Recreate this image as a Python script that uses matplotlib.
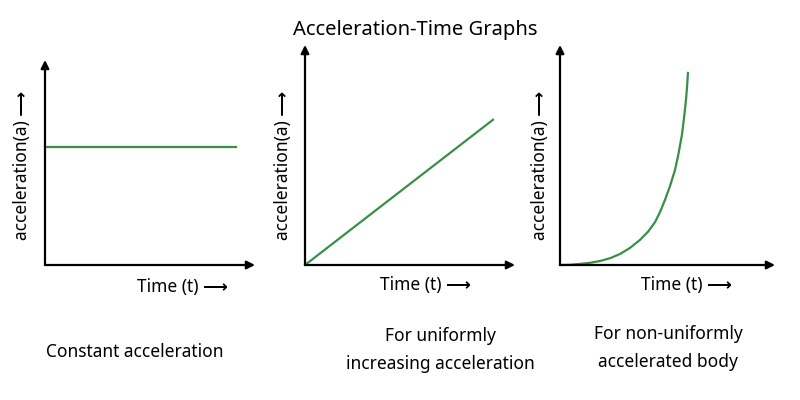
import matplotlib
matplotlib.use("Agg")
from matplotlib import pyplot as plt

plt.rcParams['font.family'] = ['Noto Sans', 'DejaVu Sans']

# panel data (arbitrary units, axes run 0..10)
const_t = [0, 9.1]
const_a = [5.76, 5.76]

lin_t = [0, 8.95]
lin_a = [0, 6.6]

curve_t = [0, 0.47, 0.93, 1.4, 1.86, 2.33, 2.79, 3.26, 3.72, 4.1, 4.42, 4.65, 4.88,
           5.12, 5.35, 5.51, 5.67, 5.77, 5.86, 5.91, 5.95]
curve_a = [0, 0.01, 0.05, 0.1, 0.18, 0.31, 0.5, 0.78, 1.14, 1.52, 1.95, 2.4, 2.95,
           3.6, 4.32, 5.05, 5.91, 6.7, 7.5, 8.1, 8.73]

captions = ["Constant acceleration",
            "For uniformly\nincreasing acceleration",
            "For non-uniformly\naccelerated body"]

GREEN = "#3a8f48"
W, H = 800, 400


def px_axes(fig, x0, y_base, x1, y_top):
    return fig.add_axes([x0 / W, (H - y_base) / H, (x1 - x0) / W, (y_base - y_top) / H])


def setup(ax):
    for s in ax.spines.values():
        s.set_visible(False)
    ax.set_xticks([])
    ax.set_yticks([])
    ax.set_xlim(0, 10)
    ax.set_ylim(0, 10)
    ap = dict(arrowstyle='-|>', color='black', lw=1.6, mutation_scale=12, shrinkA=0, shrinkB=0)
    ax.annotate('', xy=(1, 0), xytext=(0, 0), xycoords='axes fraction', arrowprops=ap)
    ax.annotate('', xy=(0, 1), xytext=(0, 0), xycoords='axes fraction', arrowprops=ap)


fig = plt.figure(figsize=(8, 4), dpi=100)
fig.patch.set_facecolor('white')
fig.text(415 / W, 1 - 30 / H, "Acceleration-Time Graphs", ha='center', va='center',
         fontsize=14.5, fontweight='bold')

panels = [(45, 265, 255, 60), (305, 265, 515, 45), (560, 265, 775, 45)]
series = [(const_t, const_a), (lin_t, lin_a), (curve_t, curve_a)]
ylab_x = [22, 283, 540]
ylab_y = [165, 165, 165]
time_lab = [(182, 287), (425, 285), (686, 285)]
cap_pos = [(135, 352), (440, 350), (668, 348)]

for i, (p, (t, a)) in enumerate(zip(panels, series)):
    ax = px_axes(fig, *p)
    setup(ax)
    ax.plot(t, a, color=GREEN, lw=1.6, clip_on=False)
    fig.text(ylab_x[i] / W, 1 - ylab_y[i] / H, "acceleration(a) ⟶",
             rotation=90, ha='center', va='center', fontsize=12.5, fontweight='bold')
    fig.text(time_lab[i][0] / W, 1 - time_lab[i][1] / H, "Time (t) ⟶",
             ha='center', va='center', fontsize=12.5, fontweight='bold')
    fig.text(cap_pos[i][0] / W, 1 - cap_pos[i][1] / H, captions[i],
             ha='center', va='center', fontsize=12.5, fontweight='bold', linespacing=1.7)

fig.savefig("out.png", dpi=100)
